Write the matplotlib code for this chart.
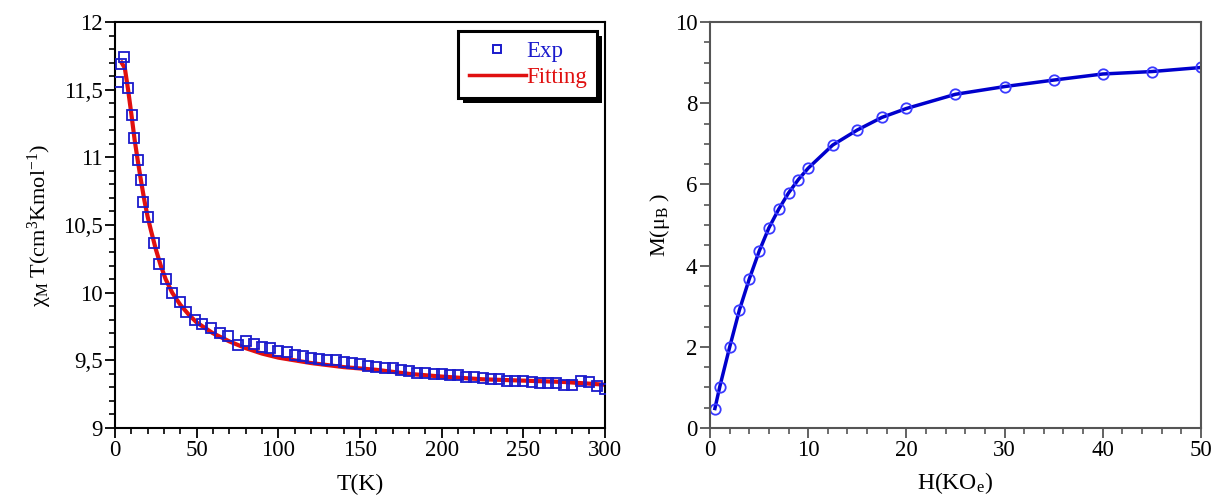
import matplotlib
matplotlib.use("Agg")
import matplotlib.pyplot as plt
from matplotlib.ticker import MultipleLocator, FuncFormatter
from matplotlib.lines import Line2D
from matplotlib.patches import Rectangle

plt.rcParams['font.family'] = ['Liberation Serif', 'DejaVu Serif']
plt.rcParams['mathtext.fontset'] = 'custom'
plt.rcParams['mathtext.rm'] = 'Liberation Serif'
plt.rcParams['mathtext.it'] = 'Liberation Serif:italic'
plt.rcParams['mathtext.default'] = 'regular'

# ---- Left panel data: chi_M T vs T ----
exp_T = [2, 3.7, 5.5, 7.8, 10.2, 11.6, 14.3, 16, 17.4, 20.4, 24, 27, 31, 35, 40, 43.3,
         49, 53.5, 59, 64, 69, 75,
         80, 85, 90, 95, 100, 105, 110, 115, 120, 125, 130, 135, 140, 145, 150, 155,
         160, 165, 170, 175, 180, 185, 190, 195, 200, 205, 210, 215, 220, 225, 230,
         235, 240, 245, 250, 255, 260, 265, 270, 275, 280, 285, 290, 295, 300]
exp_chiT = [11.56, 11.69, 11.74, 11.51, 11.31, 11.14, 10.98, 10.83, 10.67, 10.56, 10.37,
            10.21, 10.10, 10.00, 9.93, 9.86, 9.80, 9.77, 9.74, 9.70, 9.68, 9.61,
            9.64, 9.62, 9.60, 9.59, 9.57, 9.56, 9.54, 9.53, 9.52, 9.51, 9.50, 9.50,
            9.49, 9.48, 9.47, 9.46, 9.45, 9.44, 9.44, 9.43, 9.42, 9.41, 9.41, 9.40,
            9.40, 9.39, 9.39, 9.38, 9.38, 9.37, 9.36, 9.36, 9.35, 9.35, 9.35, 9.34,
            9.33, 9.33, 9.33, 9.32, 9.32, 9.35, 9.34, 9.31, 9.29]

fit_T = [4, 6, 8, 10, 12, 14, 16, 18, 20, 22, 25, 28, 31, 35, 40, 45, 50, 60, 70, 80,
         90, 100, 120, 140, 160, 180, 200, 225, 250, 275, 300]
fit_chiT = [11.70, 11.66, 11.50, 11.32, 11.13, 10.97, 10.82, 10.68, 10.56, 10.46, 10.32,
            10.20, 10.10, 10.00, 9.91, 9.84, 9.78, 9.70, 9.64, 9.59, 9.55, 9.52, 9.48,
            9.45, 9.43, 9.40, 9.38, 9.36, 9.35, 9.34, 9.32]

# ---- Right panel data: M vs H ----
H = [0.5, 1, 2, 3, 4, 5, 6, 7, 8, 9, 10, 12.5, 15, 17.5, 20, 25, 30, 35, 40, 45, 50]
M = [0.48, 1.02, 1.99, 2.91, 3.67, 4.35, 4.93, 5.39, 5.79, 6.12, 6.40, 6.97, 7.34,
     7.65, 7.87, 8.22, 8.41, 8.57, 8.72, 8.78, 8.88]

legend_labels = ["Exp", "Fitting"]

fig = plt.figure(figsize=(12.12, 4.96), dpi=100)
ax1 = fig.add_axes([0.0949, 0.1371, 0.4043, 0.8185])
ax2 = fig.add_axes([0.5858, 0.1371, 0.4051, 0.8185])

blue = '#1a1acc'
red = '#e01010'

ax1.plot(fit_T, fit_chiT, color=red, lw=3.0, zorder=2)
ax1.plot(exp_T, exp_chiT, ls='none', marker='s', ms=7, mfc='none', mec=blue, mew=1.3,
         zorder=3)

ax1.set_xlim(0, 300)
ax1.set_ylim(9, 12)
ax1.xaxis.set_major_locator(MultipleLocator(50))
ax1.xaxis.set_minor_locator(MultipleLocator(10))
ax1.yaxis.set_major_locator(MultipleLocator(0.5))
ax1.yaxis.set_minor_locator(MultipleLocator(0.1))


def comma_fmt(v, pos):
    if abs(v - round(v)) < 1e-9:
        return f"{int(round(v))}"
    return f"{v:.1f}".replace('.', ',')


ax1.yaxis.set_major_formatter(FuncFormatter(comma_fmt))
ax1.set_xlabel('T(K)', fontsize=17, labelpad=9)
ax1.set_ylabel(r'$\chi_{\rm M}$ T(cm$^{3}$Kmol$^{-1}$)', fontsize=16, labelpad=6)

h_exp = Line2D([], [], ls='none', marker='s', ms=6, mfc='none', mec=blue, mew=1.4)
h_fit = Line2D([], [], color=red, lw=2.5)
leg = ax1.legend([h_exp, h_fit], legend_labels, loc='upper right',
                 bbox_to_anchor=(0.993, 0.99), fontsize=16.5, frameon=True,
                 fancybox=False, shadow=False,
                 handlelength=2.5, handletextpad=0.0, borderpad=0.45,
                 labelspacing=0.2, borderaxespad=0.2)
leg.get_frame().set_edgecolor('black')
leg.get_frame().set_linewidth(2.2)
leg.get_frame().set_alpha(1.0)
leg.get_texts()[0].set_color(blue)
leg.get_texts()[1].set_color(red)

ax2.plot(H, M, color='#0000cc', lw=2.5, marker='o', ms=7.5, mfc='none',
         mec='#3a3aff', mew=1.3)
ax2.set_xlim(0, 50)
ax2.set_ylim(0, 10)
ax2.xaxis.set_major_locator(MultipleLocator(10))
ax2.xaxis.set_minor_locator(MultipleLocator(2))
ax2.yaxis.set_major_locator(MultipleLocator(2))
ax2.yaxis.set_minor_locator(MultipleLocator(0.5))
ax2.set_xlabel(r'H(KO$_{\rm e}$)', fontsize=17, labelpad=6)
ax2.set_ylabel(r'M($\mu_{\rm B}$ )', fontsize=16, labelpad=2)

for ax, sc in ((ax1, 'black'), (ax2, '#555555')):
    for s in ax.spines.values():
        s.set_color(sc)
        s.set_linewidth(1.5)
    ax.tick_params(which='both', direction='out', top=False, right=False,
                   labelsize=16.5, colors='black', pad=2)
    ax.tick_params(which='major', length=7, width=1.3, color=sc)
    ax.tick_params(which='minor', length=4.5, width=1.2, color=sc)

# legend drop shadow (solid black, offset down-right)
fig.canvas.draw()
bb = leg.get_window_extent()
inv = fig.transFigure.inverted()
(x0, y0) = inv.transform((bb.x0 + 5, bb.y0 - 5))
(x1, y1) = inv.transform((bb.x1 + 5, bb.y1 - 5))
shadow = Rectangle((x0, y0), x1 - x0, y1 - y0, transform=fig.transFigure,
                   facecolor='black', edgecolor='none', zorder=4)
ax1.add_artist(shadow)
shadow.set_clip_on(False)
leg.set_zorder(6)

fig.savefig('out.png', dpi=100)
